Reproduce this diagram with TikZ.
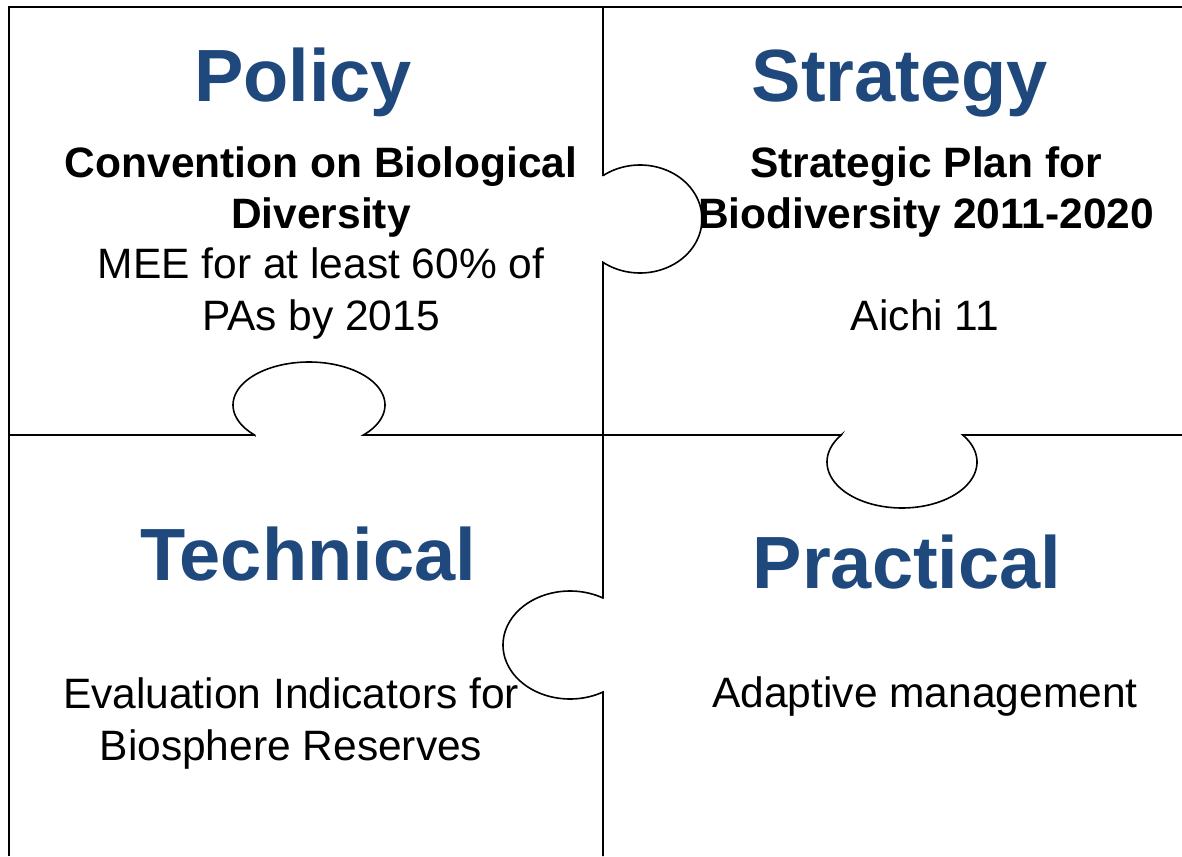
\documentclass[tikz,border=0pt]{standalone}
\usepackage{fontspec}
\setmainfont{Liberation Sans}
\definecolor{titleblue}{RGB}{31,73,125}
\begin{document}
\begin{tikzpicture}[x=1pt,y=-1pt,
  ttl/.style={anchor=base,inner sep=0pt,text=titleblue,font=\fontsize{74}{88}\selectfont\bfseries},
  bodyb/.style={anchor=base,inner sep=0pt,font=\fontsize{42.5}{51}\selectfont\bfseries},
  bodyr/.style={anchor=base,inner sep=0pt,font=\fontsize{42.5}{51}\selectfont},
  frame/.style={line width=2.6pt,black},
  divider/.style={line width=1.6pt,black}]
\useasboundingbox (0,0) rectangle (1182,856);
% outer frame
\draw[frame] (9,856) -- (9,7) -- (1182,7);
% vertical divider with two tabs
\draw[divider,line join=miter] (603,7) -- (603,176)
  -- plot[domain=-126.6:126.6,samples=80] ({640+62*cos(\x)},{219+54*sin(\x)})
  -- (603,598)
  -- plot[domain=-60.5:-299.5,samples=80] ({570+67*cos(\x)},{645+54*sin(\x)})
  -- (603,856);
% horizontal divider with two tabs
\draw[divider] (9,435) -- (254.6,435)
  -- plot[domain=135.7:404.3,samples=80] ({309+76*cos(\x)},{405+43*sin(\x)})
  -- (841.3,435)
  -- plot[domain=216:-36,samples=80] ({902+75*cos(\x)},{462+46*sin(\x)})
  -- (1182,435);
% Policy
\node[ttl] (policy) at (303,102) {Policy};
\node[bodyb] (cbd1) at (321,177) {Convention on Biological};
\node[bodyb] (cbd2) at (321,228) {Diversity};
\node[bodyr] (mee1) at (321,278) {MEE for at least 60\% of};
\node[bodyr] (mee2) at (321,330) {PAs by 2015};
% Strategy
\node[ttl] (strategy) at (900,102) {Strategy};
\node[bodyb] (sp1) at (926,177) {Strategic Plan for};
\node[bodyb] (sp2) at (926,228) {Biodiversity 2011-2020};
\node[bodyr] (aichi) at (925,330) {Aichi 11};
% Technical
\node[ttl] (technical) at (308,580) {Technical};
\node[bodyr] (ev1) at (291,708) {Evaluation Indicators for};
\node[bodyr] (ev2) at (291,760) {Biosphere Reserves};
% Practical
\node[ttl] (practical) at (907,588) {Practical};
\node[bodyr] (adapt) at (925,707) {Adaptive management};
\end{tikzpicture}
\end{document}
